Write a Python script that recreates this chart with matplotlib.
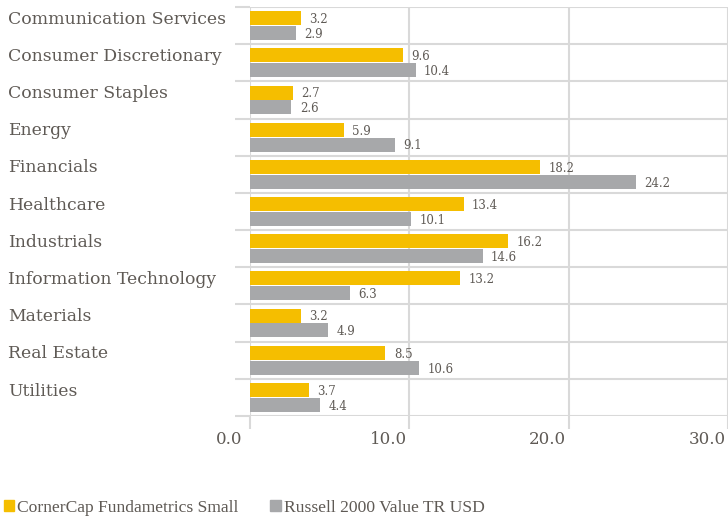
import matplotlib
matplotlib.use("Agg")
import matplotlib.pyplot as plt
import matplotlib.transforms as mtransforms
from matplotlib.patches import Patch
import numpy as np

categories = ["Communication Services", "Consumer Discretionary", "Consumer Staples",
              "Energy", "Financials", "Healthcare", "Industrials",
              "Information Technology", "Materials", "Real Estate", "Utilities"]
fund = [3.2, 9.6, 2.7, 5.9, 18.2, 13.4, 16.2, 13.2, 3.2, 8.5, 3.7]
bench = [2.9, 10.4, 2.6, 9.1, 24.2, 10.1, 14.6, 6.3, 4.9, 10.6, 4.4]
series_names = ["CornerCap Fundametrics Small", "Russell 2000 Value TR USD"]
xticks = [0, 10, 20, 30]

GOLD = "#F5BE00"
GRAY = "#A7A8AA"
TXT = "#5F5A55"
GRID = "#D9D9D9"

W, H = 728, 521
fig = plt.figure(figsize=(W / 100, H / 100), dpi=100)
ax = fig.add_axes([250 / W, 1 - 416 / H, 1 - 250 / W, (416 - 7) / H])

y = np.arange(len(categories))
bh = 0.376
b1 = ax.barh(y - 0.2, fund, height=bh, color=GOLD, zorder=3)
b2 = ax.barh(y + 0.2, bench, height=bh, color=GRAY, zorder=3)

for bars, vals in ((b1, fund), (b2, bench)):
    for rect, v in zip(bars, vals):
        ax.annotate(f"{v:.1f}", (rect.get_width(), rect.get_y() + rect.get_height() / 2),
                    xytext=(6, -1), textcoords="offset points", ha="left", va="center",
                    fontsize=8.5, color=TXT, family="DejaVu Serif")

ax.set_xlim(0, 30)
ax.set_ylim(len(categories) - 0.5, -0.5)
ax.set_xticks(xticks)
ax.set_xticklabels([])
xt = mtransforms.blended_transform_factory(ax.transData, ax.transAxes)
for t in xticks:
    ax.annotate(f"{t:.1f}", (t, 0), xycoords=xt, xytext=(-15, -17),
                textcoords="offset points", ha="center", va="center",
                fontsize=12, color=TXT, family="DejaVu Serif", annotation_clip=False)
ax.set_yticks([])
ax.set_yticks(np.arange(len(categories) + 1) - 0.5, minor=True)
ax.tick_params(axis="x", length=9, width=1.5, color=GRID, pad=3)
ax.tick_params(axis="y", which="minor", length=10.5, width=1.5, color=GRID, labelleft=False)
ax.grid(axis="x", which="major", color=GRID, lw=1.5, zorder=0)
ax.grid(axis="y", which="minor", color=GRID, lw=1.5, zorder=0)
for s in ax.spines.values():
    s.set_visible(False)
ax.set_axisbelow(True)

trans = mtransforms.blended_transform_factory(fig.transFigure, ax.transData)
for i, c in enumerate(categories):
    ax.text(8 / W, i - 0.17, c, transform=trans, ha="left", va="center",
            fontsize=12.4, color=TXT, family="DejaVu Serif")

handles = [Patch(color=GOLD), Patch(color=GRAY)]
fig.legend(handles, series_names, loc="center left", bbox_to_anchor=(0, 13 / H),
           ncol=2, frameon=False, handlelength=0.6, handleheight=0.6,
           handletextpad=0.15, columnspacing=1.85, borderaxespad=0, borderpad=0.2,
           prop={"family": "Liberation Serif", "size": 12.6}, labelcolor=TXT)

fig.savefig("out.png", dpi=100)
